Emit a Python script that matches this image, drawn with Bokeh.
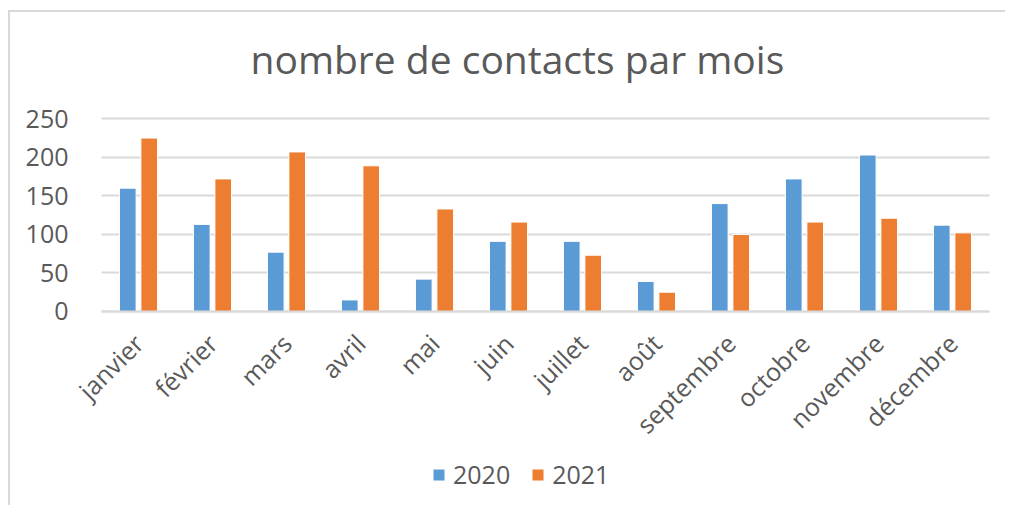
import math
import numpy as np
from bokeh.plotting import figure
from bokeh.models import (ColumnDataSource, Range1d, FixedTicker, Legend, LegendItem, Label)
from bokeh.transform import dodge
from bokeh.embed import file_html
from bokeh.resources import INLINE

mois = ["janvier", "février", "mars", "avril", "mai", "juin", "juillet",
        "août", "septembre", "octobre", "novembre", "décembre"]
contacts_2020 = [160, 113, 77, 15, 42, 91, 91, 39, 140, 172, 203, 112]
contacts_2021 = [225, 172, 207, 189, 133, 116, 73, 25, 100, 116, 121, 102]
y_ticks = [0, 50, 100, 150, 200, 250]
titre = "nombre de contacts par mois"

FONT = "Open Sans"
GREY_TXT = "#595959"
GRID = "#d9d9d9"

n = len(mois)
centres = [i + 0.5 for i in range(n)]          # centre of each month slot
src = ColumnDataSource(dict(x=centres, mois=mois, a2020=contacts_2020, a2021=contacts_2021))

# frame covers the whole chart area; both axes are drawn at fixed locations
p = figure(width=997, height=495,
           x_range=Range1d(-1.2027, n + 0.2162), y_range=Range1d(-251.7, 385.3),
           output_backend="svg", toolbar_location=None,
           min_border_left=2, min_border_right=2, min_border_top=2, min_border_bottom=2)
p.styles = {"margin-left": "8px", "margin-top": "10px",
            "border-top": "2px solid #d9d9d9", "border-left": "2px solid #d9d9d9"}
p.outline_line_color = None
p.background_fill_color = "white"
p.border_fill_color = "white"

r1 = p.vbar(x=dodge("x", -0.145), top="a2020", width=0.225, source=src,
            fill_color="#5B9BD5", line_color="white", line_width=1)
r2 = p.vbar(x=dodge("x", 0.145), top="a2021", width=0.225, source=src,
            fill_color="#ED7D31", line_color="white", line_width=1)

# horizontal grid lines limited to the plot area (0 .. n)
p.xgrid.grid_line_color = None
if "cross_bounds" in p.ygrid.properties():
    p.ygrid.ticker = FixedTicker(ticks=y_ticks)
    p.ygrid.cross_bounds = (0, n)
    p.ygrid.grid_line_color = GRID
    p.ygrid.grid_line_width = 2
else:
    p.ygrid.grid_line_color = None
    p.segment(x0=[0] * len(y_ticks), x1=[n] * len(y_ticks), y0=y_ticks, y1=y_ticks,
              line_color=GRID, line_width=2, level="underlay")

p.yaxis.fixed_location = 0
p.yaxis.ticker = FixedTicker(ticks=y_ticks)
p.yaxis.axis_line_color = None
p.yaxis.major_tick_line_color = None
p.yaxis.minor_tick_line_color = None
p.yaxis.major_label_standoff = 27
p.yaxis.major_label_text_font = FONT
p.yaxis.major_label_text_font_size = "25px"
p.yaxis.major_label_text_color = GREY_TXT

p.xaxis.fixed_location = 0
p.xaxis.bounds = (0, n)
p.xaxis.ticker = FixedTicker(ticks=centres)
p.xaxis.major_label_overrides = {c: m for c, m in zip(centres, mois)}
p.xaxis.axis_line_color = GRID
p.xaxis.axis_line_width = 2
p.xaxis.major_tick_line_color = None
p.xaxis.minor_tick_line_color = None
p.xaxis.major_label_orientation = math.pi / 4
p.xaxis.major_label_standoff = 21
p.xaxis.major_label_text_font = FONT
p.xaxis.major_label_text_font_size = "25px"
p.xaxis.major_label_text_color = GREY_TXT

p.add_layout(Label(x=5.62, y=328, text=titre, text_align="center", text_baseline="middle",
                   text_font=FONT, text_font_size="39px", text_color=GREY_TXT))

legend = Legend(items=[LegendItem(label="2020", renderers=[r1]),
                       LegendItem(label="2021", renderers=[r2])],
                orientation="horizontal", location=(419, 14),
                glyph_width=15, glyph_height=15, label_standoff=7, spacing=20,
                padding=0, margin=0, border_line_color=None, background_fill_alpha=0,
                label_text_font=FONT, label_text_font_size="25px", label_text_color=GREY_TXT)
p.add_layout(legend, "center")

open("out.html", "w").write(file_html(p, INLINE))
